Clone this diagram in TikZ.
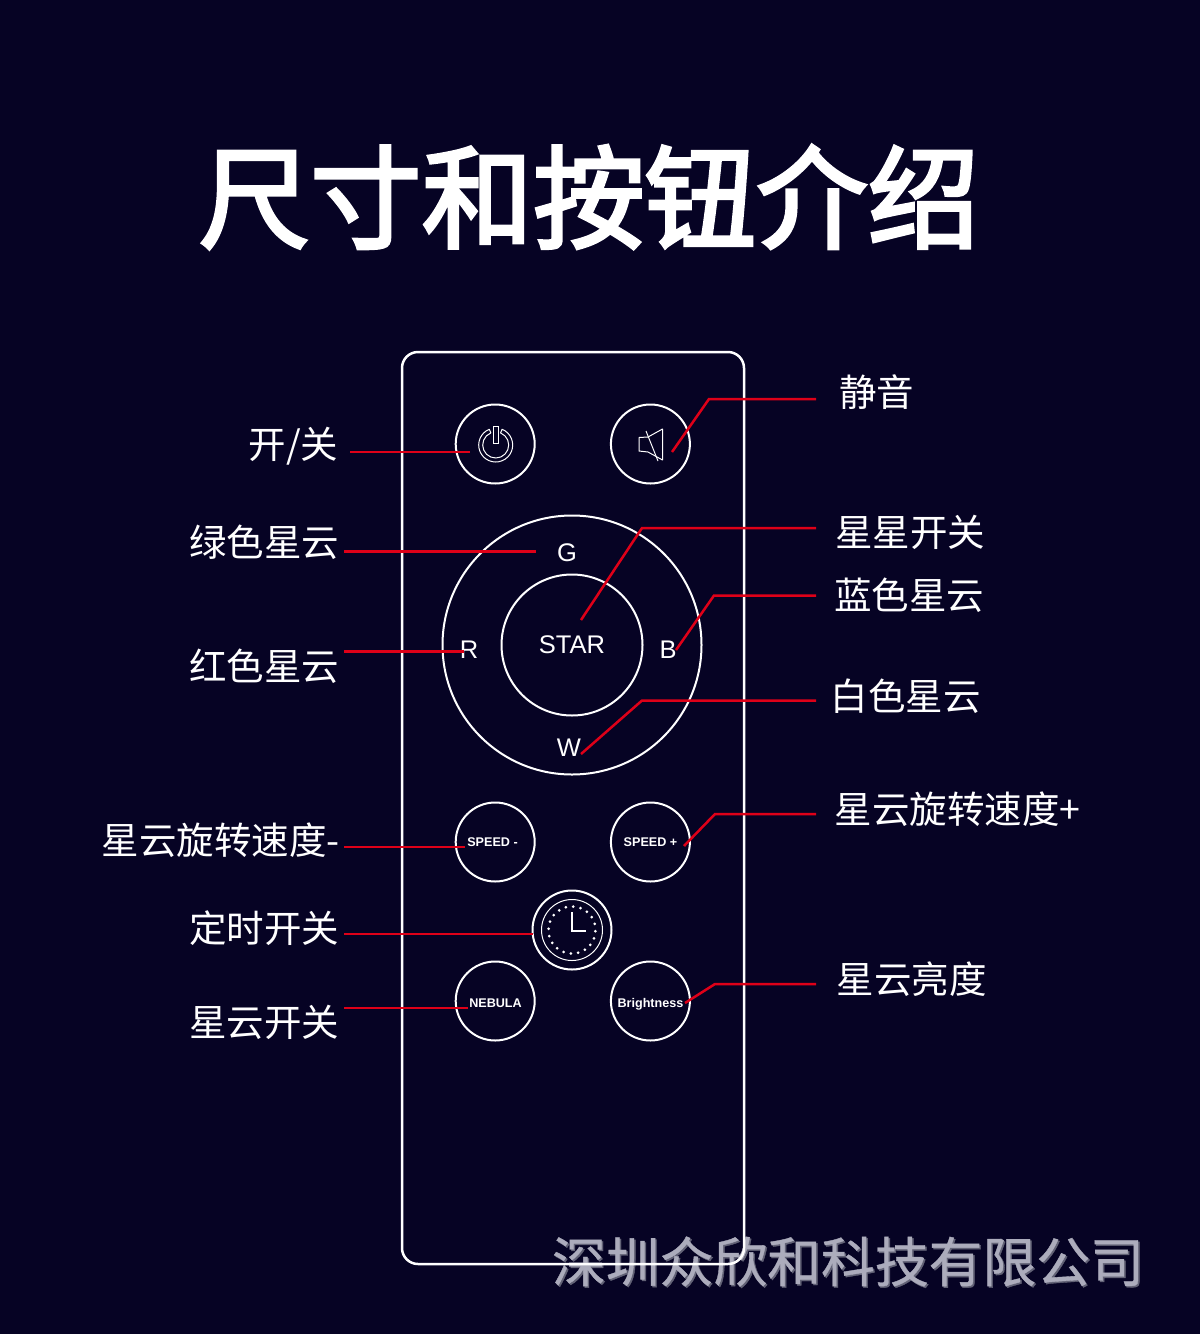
\documentclass[tikz,border=0pt]{standalone}
\usepackage{fontspec}
\setmainfont{Liberation Sans}
\newfontfamily\cjk{Noto Sans CJK SC}
\newfontfamily\cjkm[FakeBold=3]{Noto Sans CJK SC}
\newfontfamily\cjkw[FakeBold=0.7]{Noto Sans CJK SC}
\definecolor{bgc}{RGB}{6,3,36}
\definecolor{redl}{RGB}{222,0,24}
\definecolor{wmf}{RGB}{172,172,188}
\definecolor{wms}{RGB}{98,98,118}
\tikzset{
 ring/.style={draw=white,line width=2pt,circle,minimum size=#1,inner sep=0pt,outer sep=0pt},
 lbl/.style={text=white,inner sep=0pt,font=\cjk\fontsize{37.5}{37.5}\selectfont},
 keyl/.style={text=white,inner sep=0pt,font=\fontsize{25.5}{25.5}\selectfont},
 keys/.style={text=white,inner sep=0pt,font=\bfseries\fontsize{12.6}{12.6}\selectfont},
 lead/.style={draw=redl,line width=2.5pt,line join=miter},
 icon/.style={draw=white,line width=1pt},
 wm/.style={inner sep=0pt,font=\cjkw\fontsize{53.8}{53.8}\selectfont},
}
\begin{document}
\begin{tikzpicture}[x=1pt,y=-1pt]
\useasboundingbox (0,0) rectangle (1200,1334);
\fill[bgc] (0,0) rectangle (1200,1334);
% title
\node[text=white,inner sep=0pt,font=\cjkm\fontsize{111.5}{111.5}\selectfont] (title) at (589,197) {尺寸和按钮介绍};
% watermark
\node[wm,text=wms] (wmb) at (849.5,1263) {深圳众欣和科技有限公司};
\node[wm,text=wmf] (wmt) at (848,1261.5) {深圳众欣和科技有限公司};
% remote
\draw[white,line width=2.5pt,rounded corners=16pt] (402,352) rectangle (744,1264);
\node[ring=79pt] (pow) at (495.2,444) {};
\node[ring=79pt] (mute) at (650.4,444) {};
\node[ring=259pt] (wheel) at (572,645) {};
\node[ring=141pt] (star) at (572,645) {};
\node[ring=79pt] (spm) at (495.2,842) {};
\node[ring=79pt] (spp) at (650.4,842) {};
\node[ring=79pt] (clk) at (572,930) {};
\node[draw=white,line width=1pt,circle,minimum size=61pt,inner sep=0pt,outer sep=0pt] (clki) at (572,930) {};
\node[ring=79pt] (neb) at (495.2,1001) {};
\node[ring=79pt] (bri) at (650.4,1001) {};
% power icon
\draw[icon,line join=round] (495.7,445) ++(-112:17) arc[start angle=-112,end angle=-428,radius=17] -- ++(112:4) arc[start angle=-428,end angle=-112,radius=13] -- cycle;
\draw[icon] (493,426) rectangle (498,443);
% speaker icon
\draw[icon,line join=round] (639,437.5) -- (639,451) -- (648,452) -- (662.5,460) -- (662.5,429) -- (648,437) -- cycle;
\draw[icon] (646,431) -- (658,461);
% clock
\foreach \a in {0,18,...,342}{\fill[white] (572,930) ++(\a+3:23.5) circle (1.5);}
\draw[white,line width=2pt] (572,912) -- (572,930.5) -- (586,930.5);
% key texts
\node[keyl] (kg) at (567,553) {G};
\node[keyl] (kr) at (469,650) {R};
\node[keyl] (kb) at (668,650) {B};
\node[keyl] (kw) at (569,748) {W};
\node[keyl] (kstar) at (572,645) {STAR};
\node[keys] (tspm) at (492.5,842.6) {SPEED -};
\node[keys] (tspp) at (650.5,842.6) {SPEED +};
\node[keys] (tneb) at (495.5,1003.6) {NEBULA};
\node[keys] (tbri) at (650.5,1004) {Brightness};
% labels
\node[lbl,anchor=east] (l1) at (338.5,446) {开/关};
\node[lbl,anchor=east] (l2) at (339.5,542) {绿色星云};
\node[lbl,anchor=east] (l3) at (339.5,666) {红色星云};
\node[lbl,anchor=east] (l4) at (340,840) {星云旋转速度-};
\node[lbl,anchor=east] (l5) at (339.5,928) {定时开关};
\node[lbl,anchor=east] (l6) at (339.5,1022) {星云开关};
\node[lbl,anchor=west] (r1) at (839,392) {静音};
\node[lbl,anchor=west] (r2) at (835,532) {星星开关};
\node[lbl,anchor=west] (r3) at (834,595) {蓝色星云};
\node[lbl,anchor=west] (r4) at (830.5,696) {白色星云};
\node[lbl,anchor=west] (r5) at (834.5,809) {星云旋转速度+};
\node[lbl,anchor=west] (r6) at (836.5,979) {星云亮度};
% connector ends
\coordinate (a1) at (350,452); \coordinate (b1) at (470,452);
\coordinate (a2) at (344,551.5); \coordinate (b2) at (536,551.5);
\coordinate (a3) at (344,651.5); \coordinate (b3) at (464,651.5);
\coordinate (a4) at (344,847); \coordinate (b4) at (465,847);
\coordinate (a5) at (344,934); \coordinate (b5) at (533,934);
\coordinate (a6) at (344,1008); \coordinate (b6) at (468,1008);
\coordinate (c1) at (816,399); \coordinate (d1) at (672,452);
\coordinate (c2) at (816,528); \coordinate (d2) at (581,620);
\coordinate (c3) at (816,595.5); \coordinate (d3) at (676,650);
\coordinate (c4) at (816,700.5); \coordinate (d4) at (581,754);
\coordinate (c5) at (816,814); \coordinate (d5) at (684,846);
\coordinate (c6) at (816,984); \coordinate (d6) at (685,1003);
\foreach \i in {1,...,6}{\draw[lead] (a\i) -- (b\i);}
\draw[lead] (c1) -- (709,399) -- (d1);
\draw[lead] (c2) -- (642,528) -- (d2);
\draw[lead] (c3) -- (714,595.5) -- (d3);
\draw[lead] (c4) -- (642,700.5) -- (d4);
\draw[lead] (c5) -- (715,814) -- (d5);
\draw[lead] (c6) -- (715,984) -- (d6);
\end{tikzpicture}
\end{document}
